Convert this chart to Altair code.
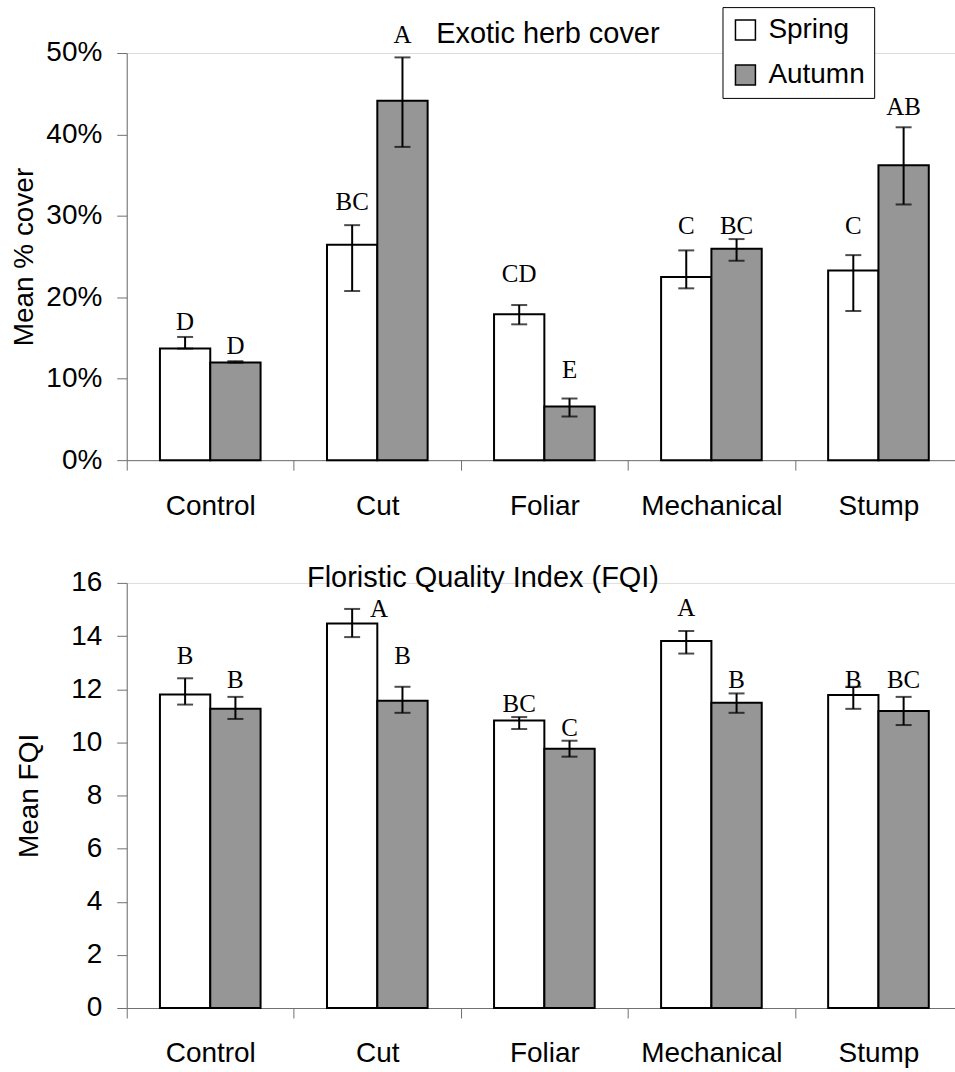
import altair as alt
import pandas as pd

# ---------------- data ----------------
categories = ["Control", "Cut", "Foliar", "Mechanical", "Stump"]
seasons = ["Spring", "Autumn"]

# Exotic herb cover (% cover)
cover_spring = [13.70, 26.45, 17.91, 22.49, 23.30]
cover_spring_hi = [15.13, 28.86, 19.05, 25.76, 25.18]
cover_spring_lo = [13.70, 20.77, 16.68, 21.10, 18.32]
cover_autumn = [11.98, 44.15, 6.59, 25.96, 36.22]
cover_autumn_hi = [12.15, 49.46, 7.57, 27.15, 40.88]
cover_autumn_lo = [11.98, 38.47, 5.36, 24.49, 31.40]
cover_spring_letters = ["D", "BC", "CD", "C", "C"]
cover_autumn_letters = ["D", "A", "E", "BC", "AB"]
cover_spring_letter_at = [16.0, 30.67, 21.9, 27.72, 27.72]
cover_autumn_letter_at = [13.0, 51.2, 10.07, 27.72, 42.43]

# Floristic Quality Index
fqi_spring = [11.80, 14.47, 10.82, 13.81, 11.78]
fqi_spring_hi = [12.41, 15.02, 10.95, 14.19, 12.09]
fqi_spring_lo = [11.42, 13.96, 10.50, 13.34, 11.26]
fqi_autumn = [11.26, 11.56, 9.76, 11.49, 11.18]
fqi_autumn_hi = [11.71, 12.09, 10.06, 11.84, 11.71]
fqi_autumn_lo = [10.88, 11.11, 9.46, 11.11, 10.65]
fqi_spring_letters = ["B", "A", "BC", "A", "B"]
fqi_autumn_letters = ["B", "B", "C", "B", "BC"]
fqi_spring_letter_at = [12.94, 14.73, 11.14, 14.77, 12.05]
fqi_autumn_letter_at = [12.03, 12.94, 10.25, 12.05, 12.05]

top_title = "Exotic herb cover"
bottom_title = "Floristic Quality Index (FQI)"
top_ytitle = "Mean % cover"
bottom_ytitle = "Mean FQI"
season_colors = ["#FFFFFF", "#969696"]


def build_df(vs, hs, ls, lets_s, lys, va, ha, la, lets_a, lya):
    rows = []
    for i, c in enumerate(categories):
        rows.append(dict(cat=c, season="Spring", value=vs[i], hi=hs[i], lo=ls[i],
                         letter=lets_s[i], ly=lys[i]))
        rows.append(dict(cat=c, season="Autumn", value=va[i], hi=ha[i], lo=la[i],
                         letter=lets_a[i], ly=lya[i]))
    return pd.DataFrame(rows)


df_cover = build_df(cover_spring, cover_spring_hi, cover_spring_lo, cover_spring_letters,
                    cover_spring_letter_at, cover_autumn, cover_autumn_hi, cover_autumn_lo,
                    cover_autumn_letters, cover_autumn_letter_at)
df_fqi = build_df(fqi_spring, fqi_spring_hi, fqi_spring_lo, fqi_spring_letters,
                  fqi_spring_letter_at, fqi_autumn, fqi_autumn_hi, fqi_autumn_lo,
                  fqi_autumn_letters, fqi_autumn_letter_at)

SANS = "Liberation Sans"
SERIF = "Liberation Serif"
W = 837


def panel(df, ymax, ystep, ytitle, label_expr, title_text, tx, ty, lx, ly, height,
          title_pad, shift_filter=None):
    x = alt.X("cat:N", sort=categories,
              scale=alt.Scale(paddingInner=0, paddingOuter=0),
              axis=alt.Axis(title=None, labelAngle=0, tickBand="extent", tickSize=10,
                            labelPadding=22, labelFont=SANS, labelFontSize=28,
                            labelColor="black", domainColor="#707070", tickColor="#707070"))
    xo = alt.XOffset("season:N", sort=seasons,
                     scale=alt.Scale(paddingInner=0, paddingOuter=0.66))
    yaxis = alt.Axis(values=list(range(0, ymax + 1, ystep)), tickSize=10, labelPadding=15,
                     titlePadding=title_pad, grid=False, labelExpr=label_expr, labelFont=SANS,
                     labelFontSize=28, labelColor="black", titleFont=SANS, titleFontSize=28,
                     titleFontWeight="normal", titleColor="black",
                     domainColor="#707070", tickColor="#707070")

    def Y(field):
        return alt.Y(field, scale=alt.Scale(domain=[0, ymax], nice=False), axis=yaxis, title=ytitle)

    base = alt.Chart(df)
    bars = base.mark_bar(stroke="black", strokeWidth=2).encode(
        x=x, xOffset=xo, y=Y("value:Q"),
        color=alt.Color("season:N", sort=seasons,
                        scale=alt.Scale(domain=seasons, range=season_colors),
                        legend=alt.Legend(title=None, orient="none", legendX=lx, legendY=ly,
                                          direction="vertical", symbolType="square",
                                          symbolSize=400, symbolStrokeColor="black",
                                          symbolStrokeWidth=1.5, labelFont=SANS,
                                          labelFontSize=28, labelColor="black",
                                          labelOffset=9, rowPadding=17, padding=9,
                                          strokeColor="black", fillColor="white")))
    stems = base.mark_rule(color="black", strokeWidth=2).encode(
        x=x, xOffset=xo, y=Y("lo:Q"), y2="hi:Q")
    caps_hi = base.mark_tick(color="black", thickness=2, size=16).encode(
        x=x, xOffset=xo, y=Y("hi:Q"))
    caps_lo = base.mark_tick(color="black", thickness=2, size=16).encode(
        x=x, xOffset=xo, y=Y("lo:Q"))
    layers = [bars, stems, caps_hi, caps_lo]
    if shift_filter is not None:
        normal = base.transform_filter(~shift_filter)
        shifted = base.transform_filter(shift_filter)
        layers.append(normal.mark_text(font=SERIF, fontSize=25, baseline="alphabetic",
                                       color="black").encode(x=x, xOffset=xo, y=Y("ly:Q"),
                                                             text="letter:N"))
        layers.append(shifted.mark_text(font=SERIF, fontSize=25, baseline="alphabetic",
                                        color="black", dx=27).encode(x=x, xOffset=xo, y=Y("ly:Q"),
                                                                     text="letter:N"))
    else:
        layers.append(base.mark_text(font=SERIF, fontSize=25, baseline="alphabetic",
                                     color="black").encode(x=x, xOffset=xo, y=Y("ly:Q"),
                                                           text="letter:N"))
    title_layer = alt.Chart(pd.DataFrame({"t": [title_text]})).mark_text(
        font=SANS, fontSize=29, baseline="alphabetic", align="center", color="black"
    ).encode(x=alt.value(tx), y=alt.value(ty), text="t:N")
    layers.append(title_layer)
    return alt.layer(*layers).properties(width=W, height=height)


top = panel(df_cover, 50, 10, top_ytitle, "datum.value + '%'", top_title,
            422, -10, 597, -46, 408, 7)
bottom = panel(df_fqi, 16, 2, bottom_ytitle, "datum.value", bottom_title,
               357, 4, 603, -22, 426, 27,
               shift_filter=(alt.datum.cat == "Cut") & (alt.datum.season == "Spring"))

chart = alt.vconcat(top, bottom, spacing=42).properties(
    padding={"left": 10, "top": 5, "right": -8, "bottom": 0}
).configure_view(stroke=None).configure(background="white")

chart.save("out.html", embed_options={"renderer": "svg", "actions": False})
